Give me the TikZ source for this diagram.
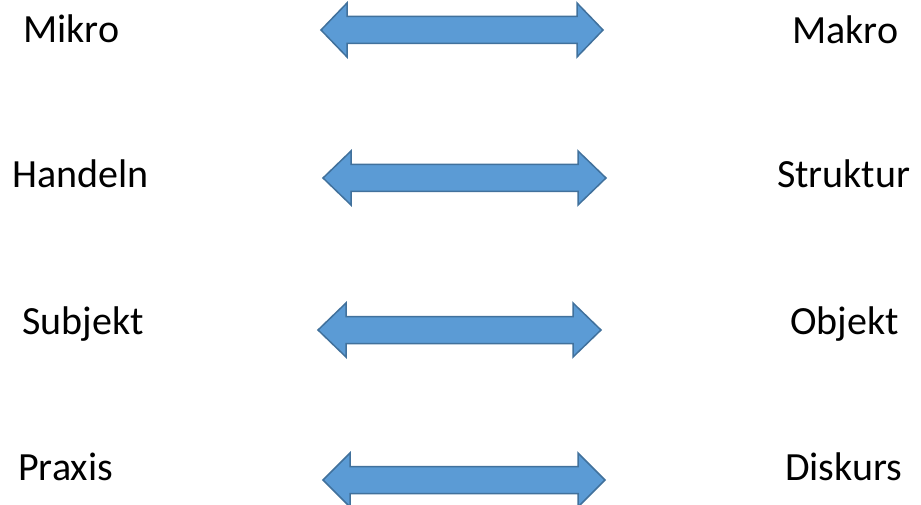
\documentclass[tikz,border=0pt]{standalone}
\usepackage{fontspec}
\setmainfont{Carlito}
\definecolor{arrfill}{HTML}{5B9BD5}
\definecolor{arrline}{HTML}{41719C}
\newcommand{\mydblarrow}[5]{% tipL, baseL, baseR, tipR, centre y
  \draw[dblarr] (#1,#5) -- (#2,#5-27) -- (#2,#5-13.5) -- (#3,#5-13.5) -- (#3,#5-27)
    -- (#4,#5) -- (#3,#5+27) -- (#3,#5+13.5) -- (#2,#5+13.5) -- (#2,#5+27) -- cycle;}
\begin{document}
\begin{tikzpicture}[x=1pt,y=-1pt,
  dblarr/.style={fill=arrfill,draw=arrline,line width=1.5pt,line join=miter},
  lbl/.style={anchor=base west,inner sep=0pt,font=\fontsize{40}{48}\selectfont}]
\useasboundingbox (0,0) rectangle (921,505);
\node[lbl] (mikro) at (23,43) {Mikro};
\node[lbl] (makro) at (792,44) {Makro};
\node[lbl] (handeln) at (12,188) {Handeln};
\node[lbl] (struktur) at (777,188) {Struktur};
\node[lbl] (subjekt) at (22,334) {Subjekt};
\node[lbl] (objekt) at (790,334) {Objekt};
\node[lbl] (praxis) at (18,480) {Praxis};
\node[lbl] (diskurs) at (785,480) {Diskurs};
\mydblarrow{321}{347}{577}{603}{30}
\mydblarrow{323}{351}{578}{606}{178}
\mydblarrow{318}{346}{573}{601}{330}
\mydblarrow{323}{350}{578}{605}{480}
\end{tikzpicture}
\end{document}
